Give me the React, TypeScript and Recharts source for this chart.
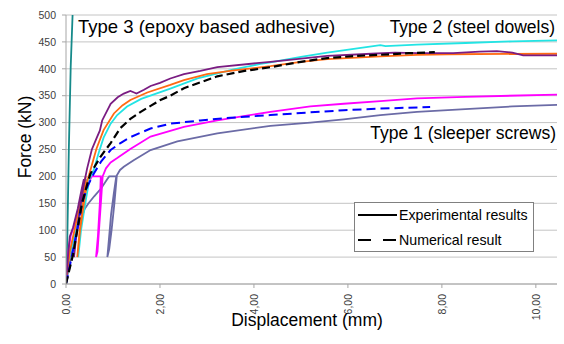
import { LineChart, Line, XAxis, YAxis, CartesianGrid } from "recharts";

// [displacement (mm), force (kN)]
const type3Exp = [[0, 0], [0.03, 94], [0.06, 249], [0.1, 403], [0.14, 500]];

const type2ExpPurple = [
  [0, 0], [0.05, 60], [0.08, 88], [0.15, 105], [0.25, 140], [0.33, 175], [0.38, 195],
  [0.3, 140], [0.2, 80], [0.17, 50], [0.22, 90], [0.3, 140], [0.38, 185], [0.45, 215],
  [0.55, 250], [0.66, 273], [0.72, 285], [0.77, 304], [0.95, 335], [1.1, 347], [1.23, 354],
  [1.37, 359], [1.45, 356], [1.5, 354], [1.66, 361], [1.8, 368], [2.0, 374], [2.22, 382],
  [2.51, 390], [2.86, 396], [3.22, 403], [4.35, 413], [5.56, 424], [6.5, 428], [7.0, 430],
  [7.47, 429], [8.24, 429], [8.8, 432], [9.17, 433], [9.5, 430], [9.73, 425], [10.45, 425],
];

const type2ExpOrange = [
  [0, 0], [0.08, 60], [0.18, 100], [0.3, 150], [0.4, 190], [0.42, 200], [0.36, 150],
  [0.28, 90], [0.24, 50], [0.3, 100], [0.38, 150], [0.45, 190], [0.52, 212], [0.65, 252],
  [0.8, 286], [1.02, 317], [1.2, 332], [1.37, 342], [1.73, 356], [2.22, 370], [2.51, 379],
  [3.0, 390], [3.57, 397], [4.35, 405], [5.0, 413], [5.56, 418], [6.69, 423], [7.47, 426],
  [8.11, 427], [10.45, 428],
];

const type2ExpCyan = [
  [0, 0], [0.08, 55], [0.2, 95], [0.33, 150], [0.44, 195], [0.38, 150], [0.3, 90],
  [0.26, 50], [0.32, 100], [0.42, 155], [0.5, 195], [0.59, 212], [0.7, 245], [0.8, 272],
  [0.95, 298], [1.09, 314], [1.3, 330], [1.6, 344], [2.22, 363], [2.8, 382], [3.57, 399],
  [4.14, 409], [4.35, 412], [5.0, 422], [5.56, 430], [6.2, 438], [6.69, 444], [6.8, 442],
  [7.47, 445], [8.5, 448], [9.5, 451], [10.45, 453],
];

const type2Num = [
  [0, 0], [0.15, 55], [0.27, 115], [0.34, 150], [0.45, 185], [0.52, 205], [0.73, 236],
  [0.95, 262], [1.16, 290], [1.37, 307], [1.59, 320], [1.8, 331], [2.01, 342], [2.22, 350],
  [2.51, 364], [3.22, 386], [3.8, 396], [4.35, 403], [5.0, 413], [5.56, 420], [6.2, 424],
  [6.69, 426], [7.3, 429], [7.85, 431],
];

const type1ExpMagenta = [
  [0, 0], [0.05, 60], [0.1, 90], [0.2, 115], [0.3, 145], [0.42, 175], [0.5, 192],
  [0.55, 200], [0.74, 200], [0.72, 150], [0.68, 90], [0.64, 50], [0.67, 60], [0.71, 110],
  [0.75, 160], [0.78, 200], [0.85, 215], [0.95, 226], [1.09, 234], [1.37, 251], [1.8, 274],
  [2.51, 292], [3.22, 304], [4.35, 320], [5.2, 330], [5.91, 335], [6.69, 340], [7.47, 345],
  [8.5, 348], [10.45, 352],
];

const type1ExpGray = [
  [0, 0], [0.1, 50], [0.25, 105], [0.4, 140], [0.48, 150], [0.6, 163], [0.75, 178],
  [0.88, 195], [0.92, 200], [1.08, 200], [1.03, 150], [0.97, 100], [0.92, 65], [0.88, 50],
  [0.91, 80], [0.96, 130], [1.02, 170], [1.07, 200], [1.15, 212], [1.23, 218], [1.44, 230],
  [1.8, 249], [2.37, 265], [3.22, 280], [4.35, 294], [5.2, 300], [5.91, 306], [6.69, 314],
  [7.47, 320], [8.5, 325], [9.5, 330], [10.45, 333],
];

const type1Num = [
  [0, 0], [0.12, 50], [0.25, 105], [0.34, 150], [0.45, 180], [0.59, 205], [0.75, 228],
  [0.95, 249], [1.16, 262], [1.37, 273], [1.8, 289], [2.22, 298], [2.86, 304], [3.5, 309],
  [4.35, 314], [5.2, 319], [5.91, 323], [6.69, 326], [7.75, 329],
];

const xTicks = [0, 2, 4, 6, 8, 10];
const yTicks = [0, 50, 100, 150, 200, 250, 300, 350, 400, 450, 500];

const toPoints = (pairs: number[][]) => pairs.map(([x, y]) => ({ x, y }));

const FONT = "'Liberation Sans', Arial, sans-serif";

const XTick = (props: any) => {
  const { x, y, payload } = props;
  return (
    <text
      x={x}
      y={y}
      transform={`rotate(-90 ${x} ${y})`}
      textAnchor="end"
      dy="0.36em"
      fontSize={10.5}
      fontFamily={FONT}
      fill="#404040"
    >
      {Number(payload.value).toFixed(2).replace(".", ",")}
    </text>
  );
};

export default function App() {
  return (
    <div style={{ position: "absolute", left: 0, top: 0, width: 564, height: 344, background: "#fff" }}>
      <LineChart
        width={564}
        height={344}
        margin={{ top: 15, right: 7, bottom: 0, left: 0 }}
        style={{ fontFamily: FONT }}
      >
        <CartesianGrid vertical={false} stroke="#c4c4c4" />
        <XAxis
          type="number"
          dataKey="x"
          domain={[0, 10.45]}
          ticks={xTicks}
          height={60}
          tickSize={4}
          tickMargin={6}
          stroke="#a6a6a6"
          tick={<XTick />}
          allowDataOverflow
        />
        <YAxis
          type="number"
          dataKey="y"
          domain={[0, 500]}
          ticks={yTicks}
          width={66}
          tickSize={4}
          tickMargin={6}
          stroke="#a6a6a6"
          tick={{ fontSize: 10.5, fill: "#404040", fontFamily: FONT }}
          allowDataOverflow
        />
        <Line data={toPoints(type3Exp)} dataKey="y" stroke="#168a8a" strokeWidth={1.8} dot={false} activeDot={false} isAnimationActive={false} />
        <Line data={toPoints(type1ExpGray)} dataKey="y" stroke="#6b6ba6" strokeWidth={1.8} dot={false} activeDot={false} isAnimationActive={false} />
        <Line data={toPoints(type1ExpMagenta)} dataKey="y" stroke="#ff00ff" strokeWidth={1.8} dot={false} activeDot={false} isAnimationActive={false} />
        <Line data={toPoints(type2ExpCyan)} dataKey="y" stroke="#22e4e4" strokeWidth={1.8} dot={false} activeDot={false} isAnimationActive={false} />
        <Line data={toPoints(type2ExpOrange)} dataKey="y" stroke="#ff6a13" strokeWidth={1.8} dot={false} activeDot={false} isAnimationActive={false} />
        <Line data={toPoints(type2ExpPurple)} dataKey="y" stroke="#7a1c82" strokeWidth={1.8} dot={false} activeDot={false} isAnimationActive={false} />
        <Line data={toPoints(type1Num)} dataKey="y" stroke="#0000ff" strokeWidth={2} strokeDasharray="9 5" dot={false} activeDot={false} isAnimationActive={false} />
        <Line data={toPoints(type2Num)} dataKey="y" stroke="#000000" strokeWidth={2.2} strokeDasharray="8 4" dot={false} activeDot={false} isAnimationActive={false} />
      </LineChart>

      {/* titles, axis labels and legend drawn on top */}
      <svg
        width={564}
        height={344}
        style={{ position: "absolute", left: 0, top: 0, pointerEvents: "none" }}
        fontFamily={FONT}
      >
        <text x={78} y={33} fontSize={18.5} fill="#000">Type 3 (epoxy based adhesive)</text>
        <text x={555} y={33} fontSize={17.5} fill="#000" textAnchor="end">Type 2 (steel dowels)</text>
        <text x={556} y={139} fontSize={17.5} fill="#000" textAnchor="end">Type 1 (sleeper screws)</text>
        <text x={307} y={326} fontSize={17.5} fill="#000" textAnchor="middle">Displacement (mm)</text>
        <text x={31} y={137} fontSize={17.5} fill="#000" textAnchor="middle" transform="rotate(-90 31 137)">Force (kN)</text>

        <rect x={354.5} y={202.5} width={179} height={49} fill="#fff" stroke="#808080" strokeWidth={1} />
        <line x1={358} y1={215} x2={397} y2={215} stroke="#000" strokeWidth={2} />
        <text x={399} y={220} fontSize={14.2} fill="#000">Experimental results</text>
        <line x1={358} y1={240} x2={397} y2={240} stroke="#000" strokeWidth={2} strokeDasharray="13 12" />
        <text x={399} y={245} fontSize={14.2} fill="#000">Numerical result</text>
      </svg>
    </div>
  );
}
